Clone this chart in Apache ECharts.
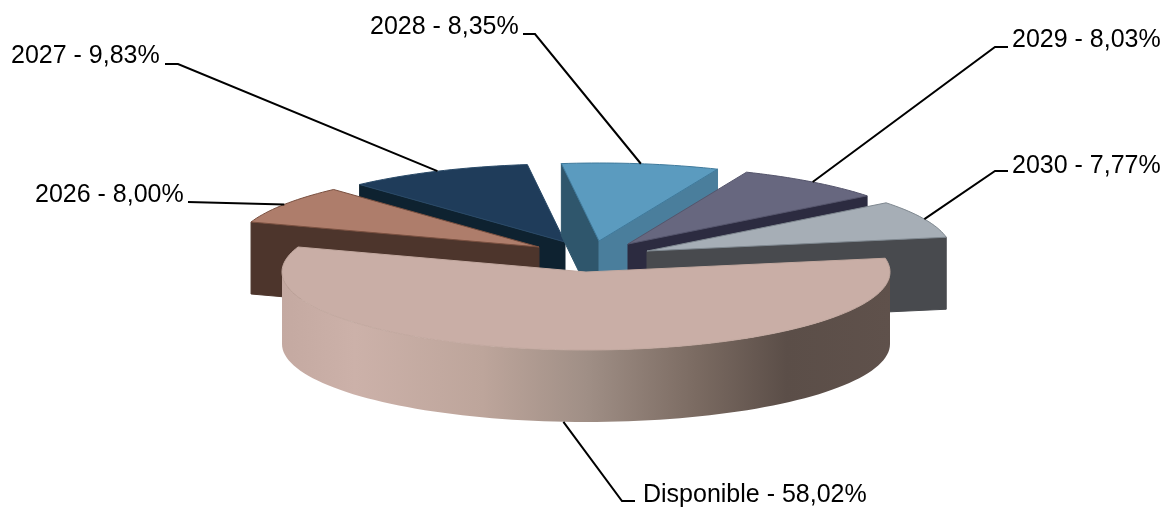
<!DOCTYPE html>
<html><head><meta charset="utf-8">
<style>html,body{margin:0;padding:0;background:#fff}#c{width:1164px;height:508px}</style>
<script src="https://cdn.jsdelivr.net/npm/echarts@6/dist/echarts.min.js"></script>
</head><body><div id="c"></div>
<script>
// data
const categories = ['2026','2027','2028','2029','2030','Disponible'];
const values = [8.00,9.83,8.35,8.03,7.77,58.02];
// styles
const topColors  = ['#ae7d6b','#1f3c5a','#5b9bbf','#67677f','#a6aeb6','#c9aea6'];
const edgeColors = ['#7a5040','#2a4a68','#3f7a9c','#55556c','#7f8890','#c2a89f'];
const startWall  = ['#4d352c','#0e2230','#2f566c',null,null,null];
const endWall    = [null,null,'#4a7e9c','#2c2b40','#484a4e',null];
// layout
const drawOrder = [1,2,3,0,4,5];
const pieCenter = [586,272], radii = [304,78], depth = 72, firstAngle = 288.7;
const explodeX = [-47,-21,13,42,61,0];
const explodeY = [-25,-30,-31,-28,-21,0];
const labelX = [35,11,370,1012,1012,643];
const labelY = [183,44,15,28,154,483];
const elbowX = [188,178,535,995,995,622];
const elbowEndX = [188,165,523,1008,1008,635];
const elbowY = [202,64,34,47,171,501];

const total = values.reduce((a,b)=>a+b,0);
const starts = []; let acc = firstAngle;
values.forEach(v=>{starts.push(acc); acc += v/total*360;});
const rad = d=>d*Math.PI/180;
const onEllipse = (a,cx,cy)=>[cx+radii[0]*Math.sin(rad(a)), cy-radii[1]*Math.cos(rad(a))];

function renderItem(params, api){
  const i = api.value(0);
  const a0 = starts[i], a1 = a0 + values[i]/total*360;
  const cx = pieCenter[0]+explodeX[i], cy = pieCenter[1]+explodeY[i];
  const children = [];
  const poly = (points, fill, stroke, lw)=>children.push({type:'polygon',shape:{points},
    style:{fill, stroke:stroke||fill, lineWidth:lw||1, lineJoin:'round'}});
  const p0 = onEllipse(a0,cx,cy), p1 = onEllipse(a1,cx,cy);
  if(startWall[i]) poly([p0,[cx,cy],[cx,cy+depth],[p0[0],p0[1]+depth]], startWall[i]);
  if(endWall[i]) poly([p1,[cx,cy],[cx,cy+depth],[p1[0],p1[1]+depth]], endWall[i]);
  const isFront = categories[i]==='Disponible';
  if(isFront){
    const arc=[]; const back=[];
    for(let a=90;a<=270;a+=2){const p=onEllipse(a,cx,cy);arc.push(p);back.unshift([p[0],p[1]+depth]);}
    const grad = new echarts.graphic.LinearGradient(0,0,1,0,[
      {offset:0,color:'#c4a9a1'},{offset:0.12,color:'#ccb1a9'},{offset:0.33,color:'#bda59b'},
      {offset:0.5,color:'#a08f86'},{offset:0.68,color:'#7b6b62'},{offset:0.83,color:'#5b4e48'},{offset:1,color:'#5f514b'}]);
    children.push({type:'polygon',shape:{points:arc.concat(back)},style:{fill:grad,stroke:null}});
  }
  const topPts=[[cx,cy]]; const n=Math.ceil((a1-a0)/1.5);
  for(let k=0;k<=n;k++) topPts.push(onEllipse(a0+(a1-a0)*k/n,cx,cy));
  poly(topPts, topColors[i], edgeColors[i], 1);
  const mid=(a0+a1)/2;
  const anchor = onEllipse(mid,cx,cy+(isFront?depth:0));
  children.push({type:'polyline',shape:{points:[[elbowEndX[i],elbowY[i]],[elbowX[i],elbowY[i]],anchor]},
    style:{stroke:'#000',lineWidth:2,fill:null},z2:10});
  children.push({type:'text',x:labelX[i],y:labelY[i],z2:11,
    style:{text:categories[i]+' - '+values[i].toFixed(2).replace('.',',')+'%',
      font:'25px "Liberation Sans", Arial, sans-serif',fill:'#000',textAlign:'left',textVerticalAlign:'top'}});
  return {type:'group',children};
}

const chart = echarts.init(document.getElementById('c'),null,{renderer:'canvas'});
chart.setOption({
  animation:false,
  backgroundColor:'#fff',
  series:[{type:'custom',coordinateSystem:'none',renderItem,silent:true,
    data:drawOrder.map(i=>[i])}]
});
</script></body></html>
